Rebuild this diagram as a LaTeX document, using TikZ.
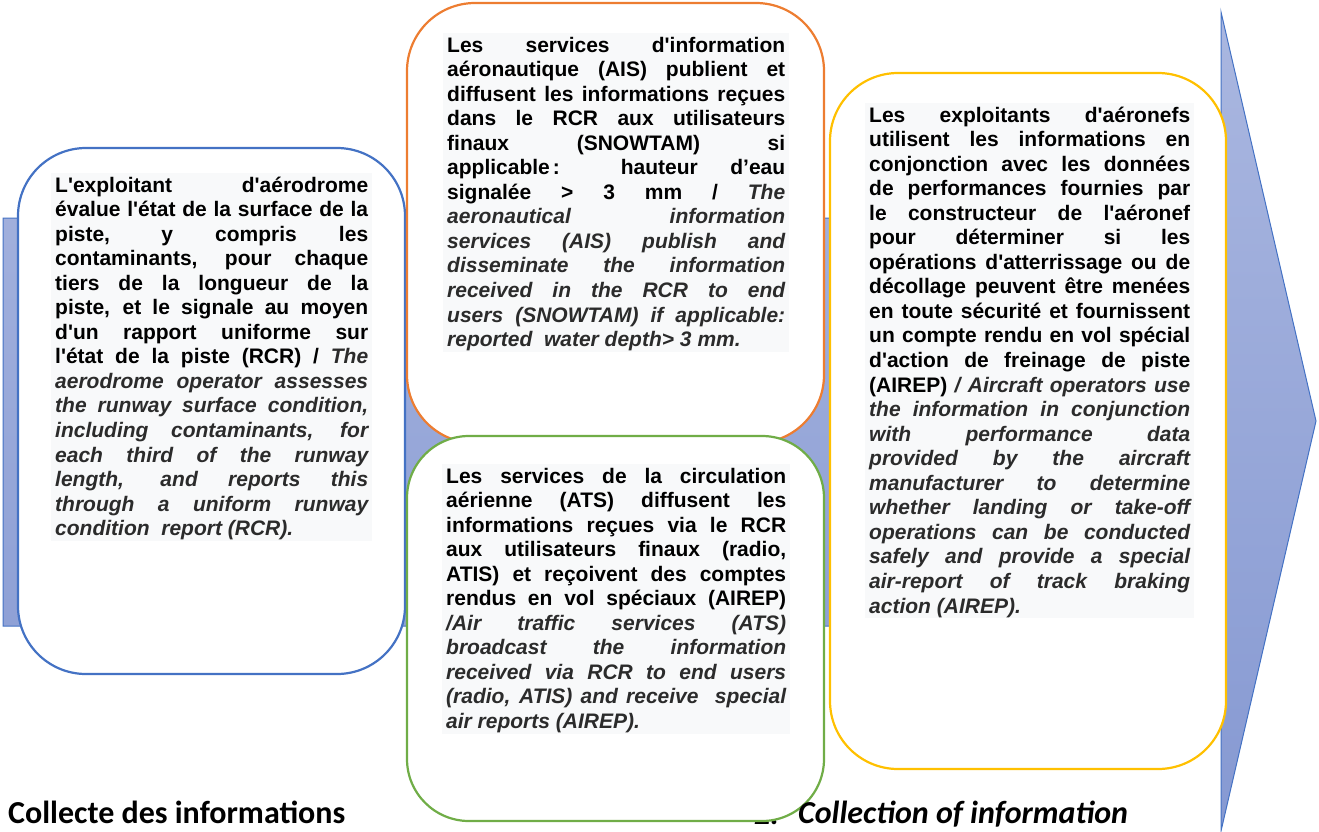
\documentclass[tikz,border=0pt]{standalone}
\usepackage{fontspec}
\setmainfont{Liberation Sans}[Ligatures=TeXOff]
\newfontfamily\calfont{Carlito}
\definecolor{cblue}{HTML}{4472C4}
\definecolor{corange}{HTML}{ED7D31}
\definecolor{cgreen}{HTML}{70AD47}
\definecolor{cyellow}{HTML}{FFC000}
\definecolor{arrtop}{HTML}{AAB7E0}
\definecolor{arrbot}{HTML}{8699D2}
\definecolor{textbg}{HTML}{F8F9FA}
\definecolor{engray}{HTML}{2B2B2B}
\newcommand\en[1]{{\itshape\color{engray}#1}}
\newcommand\jbox[2]{\begin{minipage}[t]{#1}\tolerance=10000\relax\hbadness=10000\relax
  \hyphenpenalty=10000\relax\exhyphenpenalty=10000\relax
  \leavevmode\vrule height 19pt depth 0pt width 0pt\relax #2\vrule height 0pt depth 5pt width 0pt\relax\end{minipage}}
\tikzset{
  box/.style={draw, line width=2.2pt, rounded corners=68pt, fill=white, inner sep=0pt},
  txt/.style={anchor=base west, inner xsep=4pt, inner ysep=0pt, fill=textbg,
    font=\bfseries\fontsize{21}{24.55}\selectfont},
  lbl/.style={anchor=base west, inner sep=0pt, font=\calfont\bfseries\fontsize{32}{32}\selectfont},
}
\begin{document}
\begin{tikzpicture}[x=1pt,y=-1pt]
\useasboundingbox (0,0) rectangle (1319,831);
% big arrow
\path[draw=cblue, line width=1pt, top color=arrtop, bottom color=arrbot]
  (3,218) -- (1221,218) -- (1221,12) -- (1316,421) -- (1221,831) -- (1221,626) -- (3,626) -- cycle;
% boxes
\node[box, draw=cblue, minimum width=387pt, minimum height=526pt] (b1) at (211.5,411) {};
\node[box, draw=corange, minimum width=417pt, minimum height=440pt] (b2) at (615.5,223) {};
\node[lbl, font=\calfont\bfseries\itshape\fontsize{32}{32}\selectfont] (n2) at (754,824) {2.};
\node[box, draw=cgreen, rounded corners=62pt, minimum width=417pt, minimum height=385pt] (b3) at (615.5,628.5) {};
\node[box, draw=cyellow, minimum width=396pt, minimum height=696pt] (b4) at (1028,421) {};
% texts
\node[txt] (t1) at (51,192) {\jbox{313pt}{L'exploitant d'aérodrome\linebreak
évalue l'état de la surface de la\linebreak
piste, y compris les\linebreak
contaminants, pour chaque\linebreak
tiers de la longueur de la\linebreak
piste, et le signale au moyen\linebreak
d'un rapport uniforme sur\linebreak
l'état de la piste (RCR) / \en{The\linebreak
aerodrome operator assesses\linebreak
the runway surface condition,\linebreak
including contaminants, for\linebreak
each third of the runway\linebreak
length, and reports this\linebreak
through a uniform runway\linebreak
condition\ \ report (RCR).}}};
\node[txt] (t2) at (443,52) {\jbox{338pt}{Les services d'information\linebreak
aéronautique (AIS) publient et\linebreak
diffusent les informations reçues\linebreak
dans le RCR aux utilisateurs\linebreak
finaux (SNOWTAM) si\linebreak
applicable\hspace{3pt}: hauteur d’eau\linebreak
signalée > 3 mm / \en{The\linebreak
aeronautical information\linebreak
services (AIS) publish and\linebreak
disseminate the information\linebreak
received in the RCR to end\linebreak
users (SNOWTAM) if applicable:\linebreak
reported\ \ water depth> 3 mm.}}};
\node[txt] (t3) at (442,483) {\jbox{340pt}{Les services de la circulation\linebreak
aérienne (ATS) diffusent les\linebreak
informations reçues via le RCR\linebreak
aux utilisateurs finaux (radio,\linebreak
ATIS) et reçoivent des comptes\linebreak
rendus en vol spéciaux (AIREP)\linebreak
\en{/Air traffic services (ATS)\linebreak
broadcast the information\linebreak
received via RCR to end users\linebreak
(radio, ATIS) and receive\ \ special\linebreak
air reports (AIREP).}}};
\node[txt] (t4) at (865,122) {\jbox{321pt}{Les exploitants d'aéronefs\linebreak
utilisent les informations en\linebreak
conjonction avec les données\linebreak
de performances fournies par\linebreak
le constructeur de l'aéronef\linebreak
pour déterminer si les\linebreak
opérations d'atterrissage ou de\linebreak
décollage peuvent être menées\linebreak
en toute sécurité et fournissent\linebreak
un compte rendu en vol spécial\linebreak
d'action de freinage de piste\linebreak
(AIREP) \en{/ Aircraft operators use\linebreak
the information in conjunction\linebreak
with performance data\linebreak
provided by the aircraft\linebreak
manufacturer to determine\linebreak
whether landing or take-off\linebreak
operations can be conducted\linebreak
safely and provide a special\linebreak
air-report of track braking\linebreak
action (AIREP).}}};
% bottom labels
\node[lbl] (c1) at (8,823) {Collecte des informations};
\node[lbl, font=\calfont\bfseries\itshape\fontsize{32}{32}\selectfont] (c2) at (798,823) {Collection of information};
\end{tikzpicture}
\end{document}
